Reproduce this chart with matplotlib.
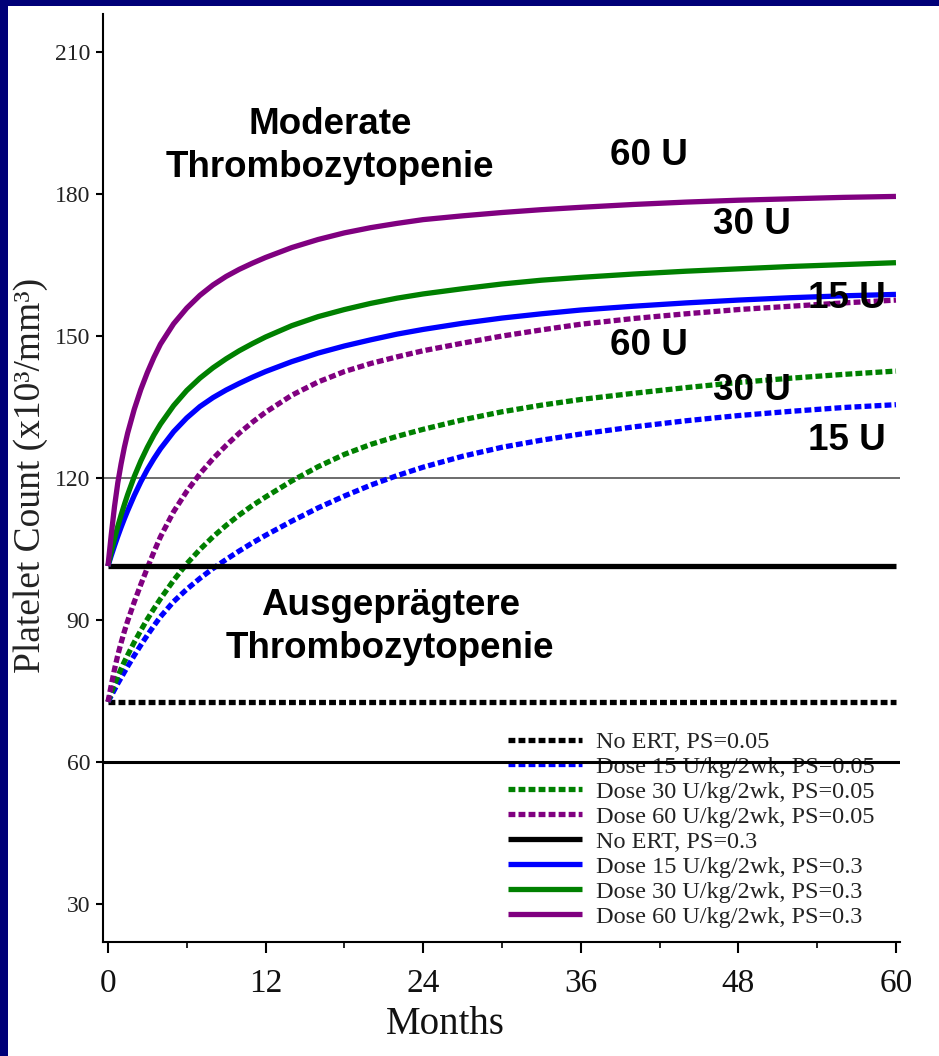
import matplotlib
matplotlib.use("Agg")
import matplotlib.pyplot as plt
from matplotlib.patches import Rectangle
from matplotlib.ticker import MultipleLocator

# ---------------- data ----------------
months = [0, 0.25, 0.5, 0.75, 1, 1.25, 1.5, 2, 2.5, 3, 3.5, 4, 5, 6, 7, 8, 9, 10, 11, 12,
          14, 16, 18, 20, 22, 24, 27, 30, 33, 36, 40, 44, 48, 52, 56, 60]

# PS = 0.3 (solid)
no_ert_ps03 = 101.4
dose15_ps03 = [101.4, 103.6, 105.7, 107.7, 109.6, 111.4, 113.1, 116.3, 119.2, 121.8, 124.1, 126.2,
               129.8, 132.7, 135.1, 137.0, 138.6, 140.0, 141.3, 142.5, 144.6, 146.4, 147.9, 149.2,
               150.4, 151.4, 152.7, 153.8, 154.7, 155.5, 156.3, 157.0, 157.6, 158.1, 158.5, 158.8]
dose30_ps03 = [101.4, 104.4, 107.2, 109.8, 112.2, 114.4, 116.5, 120.3, 123.6, 126.5, 129.1, 131.4,
               135.3, 138.5, 141.1, 143.3, 145.2, 146.9, 148.4, 149.8, 152.2, 154.1, 155.6, 156.9,
               158.0, 158.9, 160.0, 161.0, 161.8, 162.4, 163.1, 163.7, 164.2, 164.7, 165.1, 165.5]
dose60_ps03 = [101.4, 108.0, 114.0, 119.0, 123.0, 126.5, 129.5, 134.5, 138.7, 142.3, 145.5, 148.3,
               152.6, 155.9, 158.6, 160.8, 162.6, 164.1, 165.4, 166.6, 168.7, 170.4, 171.8, 172.9,
               173.8, 174.6, 175.4, 176.1, 176.7, 177.2, 177.8, 178.3, 178.7, 179.0, 179.3, 179.5]

# PS = 0.05 (dotted)
no_ert_ps005 = 72.7
dose15_ps005 = [72.7, 74.0, 75.3, 76.6, 77.8, 79.0, 80.2, 82.5, 84.7, 86.8, 88.8, 90.7,
                93.9, 96.5, 98.8, 100.9, 102.8, 104.6, 106.3, 107.9, 110.9, 113.7, 116.2, 118.5,
                120.5, 122.3, 124.6, 126.5, 128.0, 129.3, 130.8, 132.1, 133.2, 134.1, 134.9, 135.5]
dose30_ps005 = [72.7, 74.6, 76.4, 78.1, 79.7, 81.2, 82.6, 85.3, 87.8, 90.2, 92.4, 94.5,
                98.4, 101.9, 104.9, 107.6, 110.0, 112.2, 114.2, 116.0, 119.4, 122.4, 125.0, 127.1,
                128.8, 130.3, 132.3, 134.0, 135.4, 136.6, 137.9, 139.1, 140.2, 141.1, 141.9, 142.6]
dose60_ps005 = [72.7, 76.2, 79.6, 82.6, 85.2, 87.6, 89.8, 93.8, 97.5, 101.0, 104.4, 107.6,
                112.9, 117.2, 120.9, 124.1, 126.9, 129.5, 131.8, 133.9, 137.5, 140.3, 142.5, 144.2,
                145.6, 146.9, 148.5, 150.0, 151.3, 152.5, 153.7, 154.7, 155.6, 156.3, 157.0, 157.6]

ref_lower = 60    # thick black reference
ref_upper = 120   # thin grey reference

x_ticks = [0, 12, 24, 36, 48, 60]
y_ticks = [30, 60, 90, 120, 150, 180, 210]

labels = ["No ERT, PS=0.05", "Dose 15 U/kg/2wk, PS=0.05", "Dose 30 U/kg/2wk, PS=0.05",
          "Dose 60 U/kg/2wk, PS=0.05", "No ERT, PS=0.3", "Dose 15 U/kg/2wk, PS=0.3",
          "Dose 30 U/kg/2wk, PS=0.3", "Dose 60 U/kg/2wk, PS=0.3"]

# ---------------- figure ----------------
W, H = 939, 1056
plt.rcParams["font.family"] = ["Liberation Serif", "DejaVu Serif"]
fig = plt.figure(figsize=(W / 100, H / 100), dpi=100, facecolor="#000078")
fig.patches.append(Rectangle((8 / W, 0), 1, 1 - 6 / H, transform=fig.transFigure,
                             facecolor="white", edgecolor="none", zorder=-10))

ax = fig.add_axes([102.7 / W, (H - 941.9) / H, 797.2 / W, (941.9 - 14.2) / H])
ax.set_zorder(1)
ax.set_facecolor("white")
ax.set_xlim(-0.4, 60.3)
ax.set_ylim(22, 218)

PURPLE, GREEN, BLUE = "#800080", "#008000", "#0000ff"
lw = 3.8
dot = (0, (1.3, 0.6))

ax.axhline(ref_upper, color="#444444", lw=1.1, zorder=1)
ax.axhline(ref_lower, color="black", lw=2.2, zorder=6)

n = len(months)
series = [
    ([no_ert_ps005] * n, "black", dot, labels[0]),
    (dose15_ps005, BLUE, dot, labels[1]),
    (dose30_ps005, GREEN, dot, labels[2]),
    (dose60_ps005, PURPLE, dot, labels[3]),
    ([no_ert_ps03] * n, "black", "-", labels[4]),
    (dose15_ps03, BLUE, "-", labels[5]),
    (dose30_ps03, GREEN, "-", labels[6]),
    (dose60_ps03, PURPLE, "-", labels[7]),
]
handles = []
for vals, c, ls, lab in series:
    ln, = ax.plot(months, vals, color=c, linestyle=ls, lw=lw, label=lab, zorder=3,
                  solid_capstyle="butt", dash_capstyle="butt", solid_joinstyle="round")
    handles.append(ln)

leg = ax.legend(handles=handles, loc="upper left",
                bbox_to_anchor=(508 / W, (H - 731) / H), bbox_transform=fig.transFigure,
                frameon=False, fontsize=17.5, handlelength=3.05, handletextpad=0.55,
                labelspacing=0.12, borderpad=0, borderaxespad=0)
leg.set_zorder(2)
for t in leg.get_texts():
    t.set_color("#222222")

# spines / ticks
for s in ["top", "right"]:
    ax.spines[s].set_visible(False)
for s in ["left", "bottom"]:
    ax.spines[s].set_linewidth(1.5)
ax.set_xticks(x_ticks)
ax.set_yticks(y_ticks)
ax.xaxis.set_minor_locator(MultipleLocator(6))
ax.tick_params(axis="y", direction="out", length=5, width=1.5, labelsize=17, pad=4,
               labelcolor="#222222")
ax.tick_params(axis="x", which="major", direction="out", length=8, width=1.5, labelsize=24,
               pad=11, labelcolor="#111111")
ax.tick_params(axis="x", which="minor", direction="out", length=4, width=1.2)

fig.text(31 / W, 1 - 475 / H, "Platelet Count (x10³/mm³)", rotation=90, fontsize=27,
         ha="center", va="center", color="#222222")
fig.text(445 / W, 1 - 1025 / H, "Months", fontsize=28, ha="center", va="center",
         color="#111111")

# annotations
bold = dict(family=["Liberation Sans", "DejaVu Sans"], weight="bold", fontsize=26.5,
            ha="center", va="center", color="black", zorder=7)
ax.text(16.9, 190.2, "Moderate\nThrombozytopenie", linespacing=1.3, **bold)
ax.text(21.5, 88.5, "Ausgeprägtere\nThrombozytopenie", linespacing=1.3, **bold)
dose_labels = [("60 U", 41.2, 188.2), ("30 U", 49.0, 173.5), ("15 U", 56.3, 158.0),
               ("60 U", 41.2, 148.1), ("30 U", 49.0, 138.6), ("15 U", 56.3, 128.0)]
for txt, xm, yv in dose_labels:
    ax.text(xm, yv, txt, **bold)

fig.savefig("out.png", dpi=100, facecolor=fig.get_facecolor())
